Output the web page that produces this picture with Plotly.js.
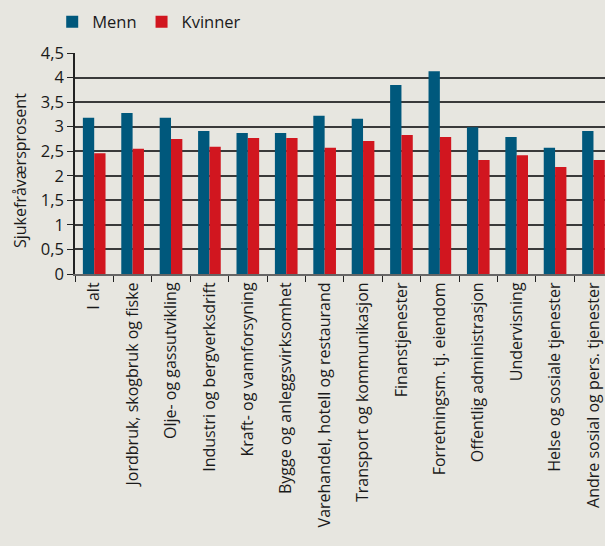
<!DOCTYPE html>
<html>
<head>
<meta charset="utf-8">
<script src="https://cdn.plot.ly/plotly-3.0.1.min.js"></script>
<style>
  html, body { margin: 0; padding: 0; background: #e7e6e0; }
  #chart { width: 605px; height: 546px; }
</style>
</head>
<body>
<div id="chart"></div>
<script>
const categories = [
    "I alt",
    "Jordbruk, skogbruk og fiske",
    "Olje- og gassutvikling",
    "Industri og bergverksdrift",
    "Kraft- og vannforsyning",
    "Bygge og anleggsvirksomhet",
    "Varehandel, hotell og restaurand",
    "Transport og kommunikasjon",
    "Finanstjenester",
    "Forretningsm. tj. eiendom",
    "Offentlig administrasjon",
    "Undervisning",
    "Helse og sosiale tjenester",
    "Andre sosial og pers. tjenester"
];
const menn =    [3.18, 3.28, 3.18, 2.91, 2.87, 2.87, 3.22, 3.16, 3.85, 4.13, 2.99, 2.79, 2.57, 2.91];
const kvinner = [2.46, 2.55, 2.75, 2.59, 2.77, 2.77, 2.57, 2.71, 2.83, 2.79, 2.32, 2.42, 2.18, 2.32];
const yTicks = [0, 0.5, 1, 1.5, 2, 2.5, 3, 3.5, 4, 4.5];
const yTickText = ["0", "0,5", "1", "1,5", "2", "2,5", "3", "3,5", "4", "4,5"];

const font = "Open Sans, sans-serif";

Plotly.newPlot("chart", [
    {
        type: "bar",
        name: "Menn",
        x: categories,
        y: menn,
        marker: { color: "#00587c" }
    },
    {
        type: "bar",
        name: "Kvinner",
        x: categories,
        y: kvinner,
        marker: { color: "#d1161f" }
    }
], {
    width: 605,
    height: 546,
    margin: { l: 75, r: 0, t: 53, b: 272 },
    paper_bgcolor: "#e7e6e0",
    plot_bgcolor: "#e7e6e0",
    font: { family: font, size: 16, color: "#1a1a1a" },
    barmode: "group",
    bargap: 0.41,
    bargroupgap: 0,
    showlegend: true,
    legend: {
        orientation: "h",
        x: -0.043,
        xanchor: "left",
        y: 1.14,
        yanchor: "middle",
        font: { family: font, size: 16.5 },
        bgcolor: "rgba(0,0,0,0)"
    },
    annotations: [{
        text: "Sjukefråværsprosent",
        textangle: -90,
        xref: "paper",
        yref: "paper",
        x: -0.104,
        y: 0.47,
        xanchor: "center",
        yanchor: "middle",
        showarrow: false,
        font: { family: font, size: 16, color: "#1a1a1a" }
    }],
    xaxis: {
        type: "category",
        range: [-0.5, 13.3],
        tickangle: -90,
        ticks: "outside",
        ticklen: 6,
        tickcolor: "#222",
        tickson: "boundaries",
        showgrid: false,
        showline: true,
        linecolor: "#666",
        linewidth: 2,
        tickfont: { family: font, size: 16 },
        automargin: false
    },
    yaxis: {
        range: [0, 4.5],
        tickvals: yTicks,
        ticktext: yTickText,
        ticks: "outside",
        ticklen: 6,
        tickcolor: "#222",
        showline: true,
        linecolor: "#222",
        linewidth: 1.5,
        showgrid: true,
        gridcolor: "#3a3a3a",
        gridwidth: 1.5,
        zeroline: false,
        tickfont: { family: font, size: 16.5 },
        automargin: false
    }
}, { displayModeBar: false });
</script>
</body>
</html>
